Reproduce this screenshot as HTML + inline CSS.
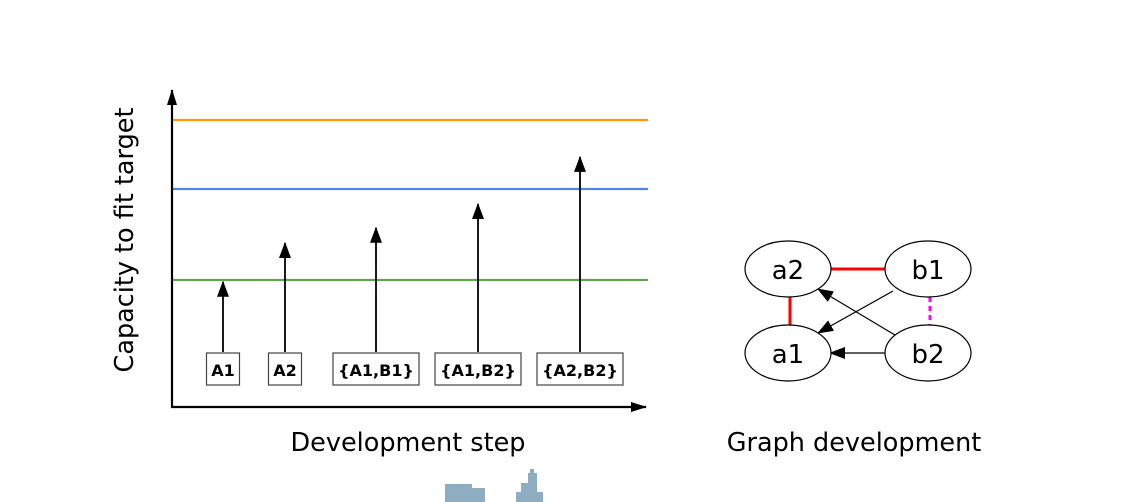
<!DOCTYPE html>
<html><head><meta charset="utf-8"><style>
html,body{margin:0;padding:0;background:#fff;}
svg{display:block;font-family:"DejaVu Sans","Liberation Sans",sans-serif;}
</style></head><body>
<svg width="1132" height="502" viewBox="0 0 1132 502">
<defs>
<marker id="ah" markerWidth="16" markerHeight="12" refX="15" refY="6" orient="auto" markerUnits="userSpaceOnUse"><path d="M0,0 L16,6 L0,12 z" fill="#000"/></marker>
<marker id="ahs" markerWidth="16" markerHeight="12" refX="15" refY="6" orient="auto" markerUnits="userSpaceOnUse"><path d="M0,1 L16,6 L0,11 z" fill="#000"/></marker>
</defs>
<g id="chart"></g>
<text x="133" y="240" font-size="25.5" text-anchor="middle" transform="rotate(-90 133 240)">Capacity to fit target</text>
<text x="408" y="451" font-size="25.5" text-anchor="middle">Development step</text>
<g fill="none" stroke="#000" stroke-width="1.2">
<line x1="827" y1="269" x2="887" y2="269" stroke="#ff0000" stroke-width="3"/>
<line x1="790" y1="297" x2="790" y2="325" stroke="#ff0000" stroke-width="3"/>
<line x1="930" y1="297" x2="930" y2="327" stroke="#ff00ff" stroke-width="3" stroke-dasharray="5,4"/>
<line x1="893" y1="291" x2="818" y2="333" marker-end="url(#ah)"/>
<line x1="895" y1="335" x2="818" y2="289" marker-end="url(#ah)"/>
<line x1="886" y1="353" x2="830" y2="353" marker-end="url(#ah)"/>
<ellipse cx="788" cy="269" rx="43" ry="28" fill="#fff"/>
<ellipse cx="928" cy="269" rx="43" ry="28" fill="#fff"/>
<ellipse cx="788" cy="353" rx="43" ry="28" fill="#fff"/>
<ellipse cx="928" cy="353" rx="43" ry="28" fill="#fff"/>
</g>
<g font-size="26" text-anchor="middle">
<text x="788" y="279">a2</text><text x="928" y="279">b1</text><text x="788" y="363">a1</text><text x="928" y="363">b2</text>
</g>
<text x="854" y="451" font-size="25.5" text-anchor="middle">Graph development</text>
<g fill="#8fadc1">
<path d="M445,484 H472 V488 H485 V502 H445 Z"/>
<path d="M516,492 H521 V483 H528 V473 H530 V469 H534 V473 H537 V483 H537 V492 H543 V502 H516 Z"/>
</g>
</svg>
<script>
const steps = ["A1","A2","{A1,B1}","{A1,B2}","{A2,B2}"];
const capacities = [2.3, 3.57, 4.07, 4.85, 6.39];
const thresholdNames = ["green","blue","orange"];
const thresholdValues = [2.36, 5.34, 7.6];
const thresholdColors = ["#5fa84a","#4d87e8","#ff9d00"];
const stepX = [223, 285, 376, 478, 580];
const boxW = [33, 33, 86, 86, 86];
const NS="http://www.w3.org/2000/svg";
const g=document.getElementById('chart');
const x0=172, yBase=352, ySpan=(352-120)/7.6;
function y(v){return yBase - v*ySpan;}
function el(t,a){const e=document.createElementNS(NS,t);for(const k in a)e.setAttribute(k,a[k]);g.appendChild(e);return e;}
thresholdValues.forEach((v,i)=>{
  const l=el('line',{x1:x0,x2:648,y1:y(v),y2:y(v),stroke:thresholdColors[i],'stroke-width':2.2});
  
  
});
const ax=el('line',{x1:x0,y1:407,x2:x0,y2:90,stroke:'#000','stroke-width':2.2,'marker-end':'url(#ahs)'});


const axx=el('line',{x1:x0-1,y1:407,x2:646,y2:407,stroke:'#000','stroke-width':2.2,'marker-end':'url(#ahs)'});


steps.forEach((s,i)=>{
  const xc=stepX[i];
  const a=el('line',{x1:xc,y1:352,x2:xc,y2:y(capacities[i]),stroke:'#000','stroke-width':1.8,'marker-end':'url(#ah)'});
  
  
  const r=el('rect',{x:xc-boxW[i]/2,y:353,width:boxW[i],height:32,fill:'#fff',stroke:'#444','stroke-width':1.2});
  
  
  const t=el('text',{x:xc,y:376,'font-size':16,'font-weight':'bold','text-anchor':'middle'});
  t.textContent=s;
  
  
});
</script>
</body></html>
